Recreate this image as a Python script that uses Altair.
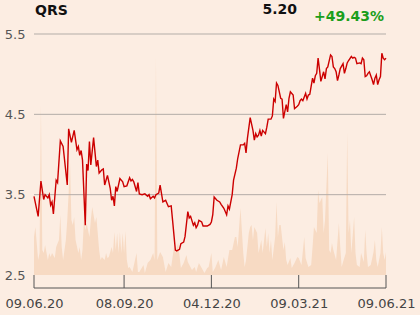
import altair as alt
import pandas as pd

# ---- data ----
tick_idx = [0, 65, 128, 191, 254]
tick_labels = ["09.06.20", "08.09.20", "04.12.20", "09.03.21", "09.06.21"]
grid_values = [3.5, 4.5, 5.5]
y_label_values = [2.5, 3.5, 4.5, 5.5]

price_idx = [0,3,5,7,8,10,11,12,13,14,16,17,19,21,24,25,27,29,31,32,33,34,35,37,38,39,40,41,43,45,
             46,47,49,50,51,53,55,56,57,58,59,60,62,64,65,67,69,70,71,72,74,75,76,78,80,82,83,84,86,87,
             88,90,91,93,95,96,97,99,100,102,103,105,106,108,109,111,112,113,115,116,117,118,119,121,122,123,125,127,128,129,
             130,132,134,135,137,139,140,141,143,144,146,147,149,151,152,153,154,156,158,159,160,161,162,163,164,165,167,168,169,171,
             172,173,174,175,176,178,179,180,182,183,184,185,187,188,190,191,192,193,194,196,197,198,199,201,202,203,204,205,206,207,
             209,210,211,212,214,215,216,217,218,219,220,221,223,224,225,226,227,229,230,231,232,233,235,236,237,238,239,240,241,242,
             244,245,246,247,248,249,250,251,252,253,254]
price_val = [3.48,3.23,3.67,3.44,3.50,3.46,3.50,3.37,3.41,3.26,3.68,3.65,4.17,4.10,3.62,4.32,4.15,4.30,4.06,4.10,3.99,4.05,3.93,3.12,3.88,3.80,4.16,3.87,4.21,3.85,
             3.93,3.77,3.81,3.82,3.62,3.74,3.58,3.43,3.48,3.36,3.60,3.54,3.70,3.66,3.60,3.61,3.71,3.67,3.69,3.66,3.54,3.65,3.51,3.50,3.51,3.48,3.50,3.45,3.48,3.46,
             3.50,3.52,3.62,3.41,3.43,3.39,3.35,3.36,3.18,2.81,2.80,2.82,2.89,2.91,2.98,3.29,3.21,3.23,3.12,3.15,3.09,3.12,3.18,3.16,3.11,3.11,3.11,3.13,3.16,3.25,
             3.47,3.43,3.41,3.38,3.33,3.25,3.36,3.32,3.50,3.68,3.83,3.95,4.12,4.12,4.14,4.02,4.20,4.46,4.30,4.18,4.26,4.22,4.24,4.30,4.23,4.30,4.26,4.34,4.44,4.44,
             4.48,4.69,4.66,4.89,4.86,4.70,4.69,4.45,4.62,4.53,4.70,4.78,4.74,4.57,4.60,4.62,4.67,4.69,4.67,4.76,4.69,4.74,4.75,4.95,4.89,4.98,5.01,5.20,5.06,4.91,
             5.03,4.94,5.07,5.09,5.24,5.22,5.09,5.07,5.03,4.92,4.99,5.07,5.13,5.01,5.07,5.14,5.17,5.22,5.20,5.21,5.20,5.13,5.14,5.13,5.20,5.18,4.97,4.98,5.01,5.03,
             4.93,4.87,4.95,4.99,4.87,4.93,4.97,5.26,5.20,5.18,5.20]

vol_idx = [0,1,3,4,5,6,7,8,10,11,12,13,15,16,18,19,20,21,23,24,25,26,27,28,29,30,32,33,34,35,
           36,37,38,40,41,42,44,45,46,47,48,49,51,52,53,54,56,57,58,59,60,61,62,63,64,65,66,67,68,69,
           71,74,75,76,79,80,82,84,86,87,88,89,91,93,95,97,99,101,102,104,106,108,110,111,114,116,117,119,121,123,
           125,126,128,129,131,133,135,137,139,141,143,145,146,147,149,151,152,153,155,156,157,158,159,161,162,163,164,165,167,168,
           169,170,171,172,174,175,176,177,178,180,181,182,183,185,186,188,190,191,193,195,196,198,200,201,202,204,205,206,208,209,
           210,212,213,214,215,216,218,220,221,222,223,225,226,227,228,229,231,232,233,235,236,238,239,240,241,243,245,246,247,248,
           250,251,252,253,254]
vol_val = [38,48,15,22,170,25,22,30,15,22,18,22,17,28,35,60,28,15,35,55,82,112,55,50,58,35,22,28,15,25,
           55,45,52,38,55,68,52,58,42,25,15,18,15,22,17,18,28,22,43,25,42,22,43,22,42,22,44,15,7,8,
           3,22,3,3,10,2,12,15,22,15,218,15,23,18,3,12,8,28,22,32,7,12,20,13,5,8,3,12,7,2,
           7,8,22,3,8,15,5,18,8,25,25,38,38,28,67,22,8,15,42,48,50,35,48,42,22,28,35,22,47,28,
           42,22,35,15,38,73,38,50,50,25,33,15,10,17,7,12,18,17,10,38,17,8,10,28,48,42,85,72,78,42,
           55,122,25,22,32,25,15,52,28,8,13,22,143,42,55,22,58,22,10,8,22,13,45,22,8,10,23,35,15,8,
           22,48,22,15,23]

header_name = ["QRS"]
last_price = ["5.20"]
change_pct = ["+49.43%"]

# ---- chart ----
W, H = 352, 241
price_df = pd.DataFrame({"idx": price_idx, "price": price_val})
vol_df = pd.DataFrame({"idx": vol_idx, "volume": vol_val})
tick_df = pd.DataFrame({"idx": tick_idx})
span_df = pd.DataFrame({"idx": [tick_idx[0]], "idx_end": [tick_idx[-1]]})
grid_df = pd.DataFrame({"price": grid_values})

label_expr = " : ".join(
    [f"datum.value == {i} ? '{l}'" for i, l in zip(tick_idx, tick_labels)]
) + " : ''"

x_scale = alt.Scale(domain=[0, 254], nice=False, zero=False)

def price_scale():
    return alt.Scale(domain=[2.5, 5.5], nice=False, zero=False)

x_axis = alt.Axis(values=tick_idx, labelExpr=label_expr, title=None, ticks=False,
                  domain=False, offset=13, grid=False,
                  labelFont="DejaVu Sans", labelFontSize=13, labelColor="#444444",
                  labelPadding=9, labelFlush=False)

X = alt.X("idx:Q", scale=x_scale, axis=x_axis)

volume = alt.Chart(vol_df).mark_area(color="#f7dac3", opacity=1, interpolate="linear").encode(
    x=X,
    y=alt.Y("volume:Q", scale=alt.Scale(domain=[0, 241], nice=False), axis=None),
)

grid_rules = alt.Chart(grid_df).mark_rule(color="#b3ada8", strokeWidth=1).encode(
    y=alt.Y("price:Q", scale=price_scale(), axis=None),
)

ticks = alt.Chart(tick_df).mark_rule(color="#555555", strokeWidth=1).encode(
    x=X,
    y=alt.value(H),
    y2=alt.value(H + 13),
)

baseline_rule = alt.Chart(span_df).mark_rule(color="#555555", strokeWidth=1).encode(
    x=X,
    x2="idx_end:Q",
    y=alt.value(H + 13),
)

line = alt.Chart(price_df).mark_line(color="#cc0000", strokeWidth=1.4).encode(
    x=X,
    y=alt.Y("price:Q", scale=price_scale(),
            axis=alt.Axis(values=y_label_values, format=".1f", title=None,
                          ticks=False, domain=False, grid=False,
                          labelFont="DejaVu Sans", labelFontSize=13,
                          labelColor="#555555", labelPadding=9)),
)

def header(txt, xpos, ypos, align, color):
    return alt.Chart(pd.DataFrame({"t": txt})).mark_text(
        font="DejaVu Sans", fontWeight="bold", fontSize=14, align=align,
        baseline="alphabetic", color=color,
    ).encode(x=alt.value(xpos), y=alt.value(ypos), text="t:N")

t1 = header(header_name, 1, -19, "left", "#111111")
t2 = header(last_price, 263, -20, "right", "#111111")
t3 = header(change_pct, 350, -13, "right", "#1b9e1b")

chart = alt.layer(volume, grid_rules, ticks, baseline_rule, line, t1, t2, t3).resolve_scale(y="independent").properties(
    width=W, height=H,
    autosize=alt.AutoSizeParams(type="none"),
    padding={"left": 34, "top": 34, "right": 34, "bottom": 40},
    background="#fcede2",
).configure_view(stroke=None)

chart.save("out.html", embed_options={"renderer": "svg", "actions": False})
